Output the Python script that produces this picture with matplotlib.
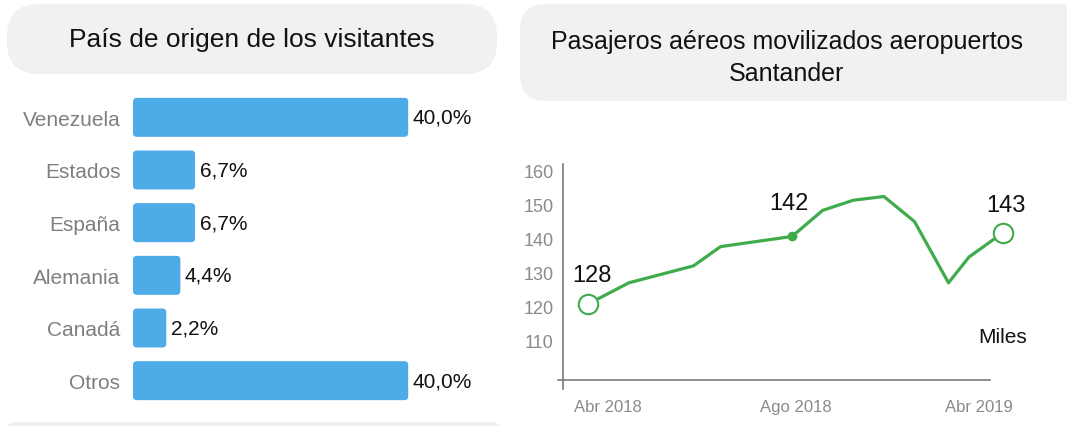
import matplotlib
matplotlib.use("Agg")
import matplotlib.pyplot as plt
from matplotlib.patches import FancyBboxPatch
from matplotlib import font_manager

# Data
paises = ["Venezuela", "Estados", "España", "Alemania", "Canadá", "Otros"]
porcentajes = [40.0, 6.7, 6.7, 4.4, 2.2, 40.0]

# line chart: x positions (months since Abr 2018, uneven)
meses = [0, 1.2, 3.1, 3.9, 6.0, 6.9, 7.8, 8.7, 9.6, 10.6, 11.2, 12.2]
pasajeros = [120.6, 126.9, 131.9, 137.6, 140.6, 148.3, 151.3, 152.4, 145.0, 126.9, 134.5, 141.7]
etiquetas = {0: "128", 4: "142", 11: "143"}
ticks_x = [0.6, 6.1, 11.5]
ticks_x_lab = ["Abr 2018", "Ago 2018", "Abr 2019"]
ticks_y = [110, 120, 130, 140, 150, 160]

names = [f.name for f in font_manager.fontManager.ttflist]
FONT = "Liberation Sans Narrow" if "Liberation Sans Narrow" in names else "Liberation Sans"
plt.rcParams["font.family"] = [FONT, "DejaVu Sans"]

W, H = 1067, 427
fig = plt.figure(figsize=(W / 100, H / 100), dpi=100)

# background axes in pixel units for the title boxes
bg = fig.add_axes([0, 0, 1, 1])
bg.set_xlim(0, W)
bg.set_ylim(H, 0)
bg.axis("off")
GRIS = "#f1f1f1"
bg.add_patch(FancyBboxPatch((7, 5), 490, 70, boxstyle="round,pad=0,rounding_size=32",
                            fc=GRIS, ec="none"))
bg.add_patch(FancyBboxPatch((520, 5), 580, 97, boxstyle="round,pad=0,rounding_size=26",
                            fc=GRIS, ec="none"))
bg.add_patch(FancyBboxPatch((7, 423), 493, 30, boxstyle="round,pad=0,rounding_size=8",
                            fc=GRIS, ec="none"))
bg.text(252, 40, "País de origen de los visitantes", fontsize=19, ha="center", va="center",
        color="#111111")
bg.text(787, 58, "Pasajeros aéreos movilizados aeropuertos\nSantander", fontsize=18,
        ha="center", va="center", color="#111111", linespacing=1.4)


def px_axes(x0, y0, x1, y1):
    return fig.add_axes([x0 / W, 1 - y1 / H, (x1 - x0) / W, (y1 - y0) / H])


# ---- bar chart ----
ax = px_axes(133, 92, 453, 408)
ax.patch.set_alpha(0)
base = -3
y = list(range(len(paises)))
bars = ax.barh(y, [p - base for p in porcentajes], left=base, height=0.74, color="#4dabe7")
ax.set_xlim(base, 47)
ax.set_ylim(len(paises) - 0.5, -0.5)
# rounded corners
asp = (320 / 50) / (316 / 6)
for b in bars:
    x0, y0 = b.get_x(), b.get_y()
    r = FancyBboxPatch((x0, y0), b.get_width(), b.get_height(),
                       boxstyle="round,pad=0,rounding_size=0.6", mutation_aspect=asp,
                       fc=b.get_facecolor(), ec="none")
    ax.add_patch(r)
    b.set_visible(False)
for yi, p in zip(y, porcentajes):
    ax.text(p + 0.7, yi, f"{p:.1f}%".replace(".", ","), va="center", ha="left",
            fontsize=15, color="#111111")
ax.set_yticks(y)
ax.set_yticklabels(paises, fontsize=15, color="#7f7f7f")
ax.tick_params(axis="y", length=0, pad=9)
ax.set_xticks([])
for s in ax.spines.values():
    s.set_visible(False)

# ---- line chart ----
VERDE = "#3fac4c"
ax2 = px_axes(558, 165, 990, 381)
ax2.patch.set_alpha(0)
# spine position first, it resets the tick settings
ax2.spines["left"].set_position(("data", -0.73))
ax2.plot(meses, pasajeros, color=VERDE, lw=2.3, clip_on=False, zorder=3)
for i in (0, len(meses) - 1):
    ax2.plot(meses[i], pasajeros[i], "o", ms=14, mfc="white", mec=VERDE, mew=1.5,
             clip_on=False, zorder=4)
ax2.plot(meses[4], pasajeros[4], "o", ms=6, color=VERDE, clip_on=False, zorder=4)
offs = {0: (3, 13), 4: (-2, 16), 11: (2, 12)}
for i, t in etiquetas.items():
    ax2.annotate(t, (meses[i], pasajeros[i]), xytext=offs[i], textcoords="offset points",
                 ha="center", va="bottom", fontsize=17, color="#111111",
                 annotation_clip=False)
ax2.text(12.2, 111, "Miles", ha="center", va="center", fontsize=15, color="#111111")
ax2.set_xlim(-0.88, 11.82)
ax2.set_ylim(98.2, 162)
ax2.set_yticks(ticks_y)
ax2.set_yticklabels([str(v) for v in ticks_y], fontsize=13, color="#8a8a8a")
ax2.set_xticks(ticks_x)
ax2.set_xticklabels(ticks_x_lab, fontsize=12, color="#8a8a8a")
ax2.tick_params(length=0)
ax2.tick_params(axis="y", pad=7)
ax2.tick_params(axis="x", pad=14)
for s in ("top", "right"):
    ax2.spines[s].set_visible(False)
for s in ("left", "bottom"):
    ax2.spines[s].set_color("#7a7a7a")
    ax2.spines[s].set_linewidth(1.2)
ax2.spines["left"].set_bounds(95.5, 162)

fig.savefig("out.png", dpi=100)
